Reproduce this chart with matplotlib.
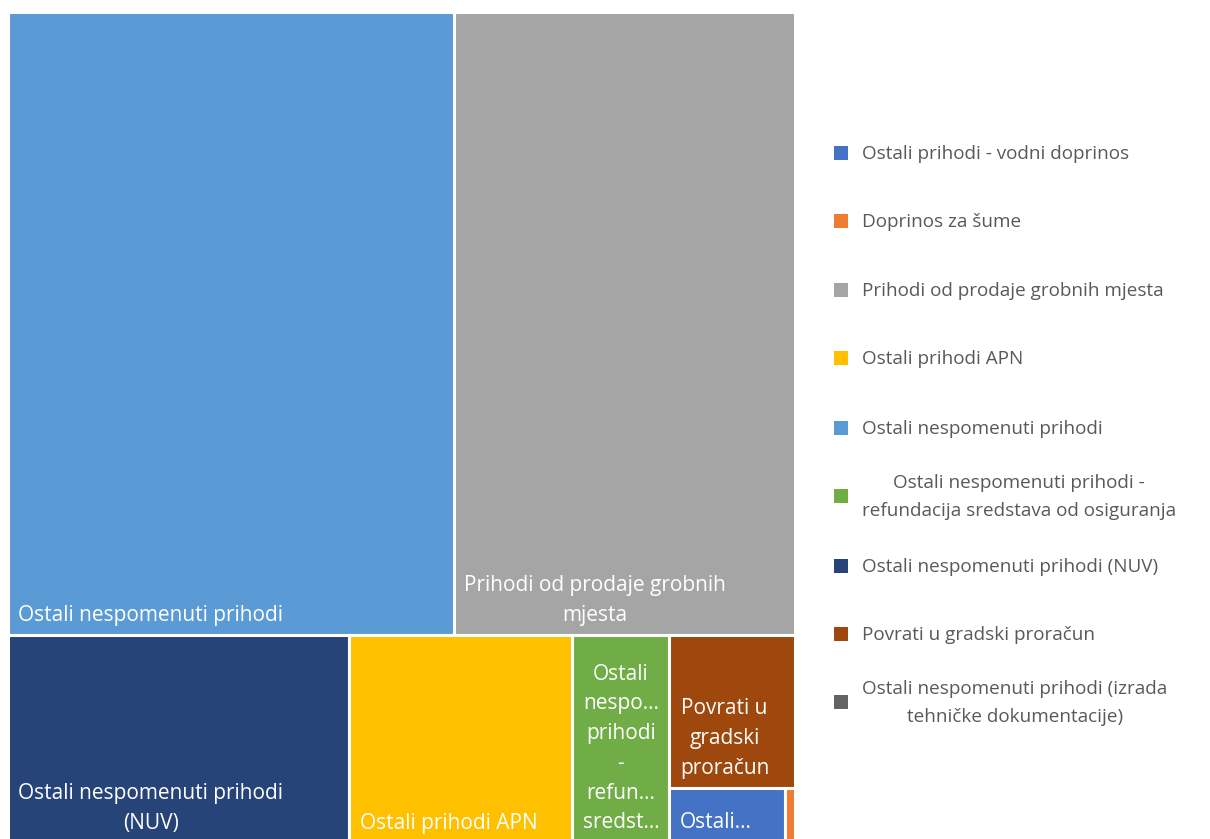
import matplotlib
matplotlib.use("Agg")
import matplotlib.pyplot as plt
from matplotlib.patches import Rectangle

# ---- data ----
categories = [
    "Ostali prihodi - vodni doprinos",
    "Doprinos za šume",
    "Prihodi od prodaje grobnih mjesta",
    "Ostali prihodi APN",
    "Ostali nespomenuti prihodi",
    "Ostali nespomenuti prihodi - refundacija sredstava od osiguranja",
    "Ostali nespomenuti prihodi (NUV)",
    "Povrati u gradski proračun",
    "Ostali nespomenuti prihodi (izrada tehničke dokumentacije)",
]
values = [6268, 572, 212925, 46273, 277769, 20128, 70861, 19202, 0]
colors = ["#4472C4", "#ED7D31", "#A5A5A5", "#FFC000", "#5B9BD5",
          "#70AD47", "#264478", "#9E480E", "#636363"]
legend_labels = [
    "Ostali prihodi - vodni doprinos",
    "Doprinos za šume",
    "Prihodi od prodaje grobnih mjesta",
    "Ostali prihodi APN",
    "Ostali nespomenuti prihodi",
    "Ostali nespomenuti prihodi -\nrefundacija sredstava od osiguranja",
    "Ostali nespomenuti prihodi (NUV)",
    "Povrati u gradski proračun",
    "Ostali nespomenuti prihodi (izrada\ntehničke dokumentacije)",
]
tile_labels = [
    "Ostali…",
    "",
    "Prihodi od prodaje grobnih\nmjesta",
    "Ostali prihodi APN",
    "Ostali nespomenuti prihodi",
    "Ostali\nnespo…\nprihodi\n-\nrefun…\nsredst…",
    "Ostali nespomenuti prihodi\n(NUV)",
    "Povrati u\ngradski\nproračun",
    "",
]
# treemap nesting (indices into categories): rows / columns alternate
structure = ("rows", [("cols", [4, 2]),
                      ("cols", [6, 3, 5, ("rows", [7, ("cols", [0, 1, 8])])])])

FONT = "Open Sans"
plt.rcParams["font.family"] = [FONT, "DejaVu Sans"]

W_PX, H_PX = 1210, 839
fig = plt.figure(figsize=(W_PX / 100, H_PX / 100), dpi=100)
# plot area: x 8..795 px, y 12..843 px (bottom cut off by the figure edge)
x0, x1, y0, y1 = 8, 795, 12, 843
ax = fig.add_axes([x0 / W_PX, 1 - y1 / H_PX, (x1 - x0) / W_PX, (y1 - y0) / H_PX])
ax.set_xlim(0, 1)
ax.set_ylim(0, 1)
ax.axis("off")


def total(node):
    if isinstance(node, int):
        return values[node]
    return sum(total(c) for c in node[1])


rects = {}


def layout(node, x, y, w, h):
    if isinstance(node, int):
        rects[node] = (x, y, w, h)
        return
    kind, children = node
    t = total(node)
    if kind == "cols":
        cx = x
        for c in children:
            cw = w * total(c) / t if t else 0
            layout(c, cx, y, cw, h)
            cx += cw
    else:  # rows, from top to bottom
        cy = y + h
        for c in children:
            ch = h * total(c) / t if t else 0
            cy -= ch
            layout(c, x, cy, w, ch)


layout(structure, 0, 0, 1, 1)

ax_w_px = x1 - x0
ax_h_px = y1 - y0
pad_x = 10.5 / ax_w_px
pad_y = 9.5 / ax_h_px

for i, (x, y, w, h) in rects.items():
    if values[i] <= 0:
        continue
    ax.add_patch(Rectangle((x, y), w, h, facecolor=colors[i], edgecolor="white",
                           linewidth=2.2, clip_on=False))
    lab = tile_labels[i]
    if not lab:
        continue
    if w * ax_w_px < 110:
        ax.text(x + w / 2, y + pad_y, lab, ha="center", va="bottom", color="white",
                fontsize=15, multialignment="center", linespacing=1.55)
    else:
        ax.text(x + pad_x, y + pad_y, lab, ha="left", va="bottom", color="white",
                fontsize=15, multialignment="center", linespacing=1.55)

# legend
leg_y = [153, 221, 290, 358, 428, 496, 566, 634, 702]
for i, yy in enumerate(leg_y):
    fig.patches.append(Rectangle(((834) / W_PX, 1 - (yy + 7) / H_PX), 14 / W_PX, 14 / H_PX,
                                 transform=fig.transFigure, facecolor=colors[i],
                                 edgecolor="none"))
    fig.text(862 / W_PX, 1 - (yy + 1) / H_PX, legend_labels[i], ha="left", va="center",
             color="#595959", fontsize=13.6, multialignment="center", linespacing=1.68)

fig.savefig("out.png", dpi=100, facecolor="white")
